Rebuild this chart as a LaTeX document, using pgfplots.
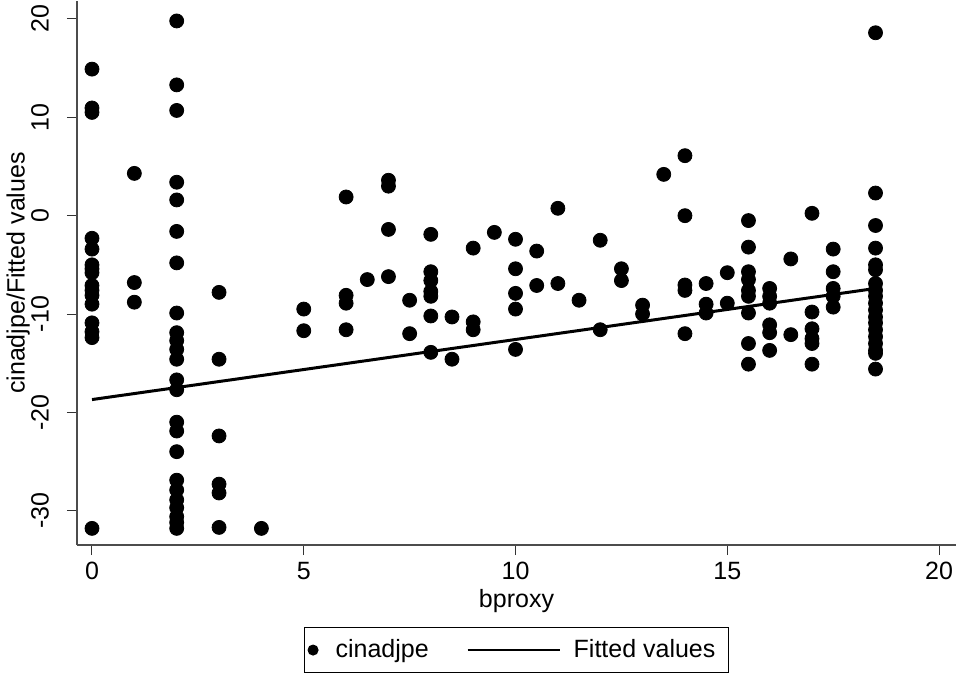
\documentclass[border=0pt]{standalone}
\usepackage{fontspec}
\setmainfont{Liberation Sans}
\usepackage{pgfplots}
\pgfplotsset{compat=1.18}

\begin{document}
\begin{tikzpicture}
% bounding box in reference proportions (1 px = 0.5 bp)
\useasboundingbox (-38.5bp,-64.5bp) rectangle (440.5bp,272.5bp);
\begin{axis}[
  at={(0,0)}, anchor=south west,
  scale only axis,
  width=439.5bp, height=272bp,
  font=\fontsize{12.5bp}{15bp}\selectfont,
  xmin=-0.354, xmax=20.40,
  ymin=-33.49, ymax=21.83,
  xtick={0,5,10,15,20},
  ytick={-30,-20,-10,0,10,20},
  axis x line*=bottom, axis y line*=left,
  axis line style={black!70, line width=1bp},
  tick align=outside,
  major tick length=5bp,
  tick style={black!80, line width=0.5bp},
  /pgf/number format/assume math mode=true,
  xticklabel style={anchor=north, yshift=0bp},
  yticklabel style={rotate=90, anchor=south, yshift=5.5bp},
  xlabel={bproxy},
  xlabel style={at={(axis description cs:0.5,0)}, anchor=center, yshift=-28bp},
  ylabel={cinadjpe/Fitted values},
  ylabel style={at={(axis description cs:-0.067,0.5)}, anchor=center},
  legend columns=2,
  legend style={at={(axis description cs:0.5,0)}, anchor=north, yshift=-41bp,
    draw=black, line width=0.5bp, inner xsep=1.5bp, inner ysep=4bp,
    font=\fontsize{12.5bp}{15bp}\selectfont,
    /tikz/every even column/.append style={column sep=16bp},
    /tikz/every odd column/.append style={column sep=3.5bp},
    nodes={inner xsep=3bp, inner ysep=2bp}},
  legend cell align=left,
]
\addplot[only marks, mark=*, mark size=3.5bp, black,
  legend image code/.code={\fill[black] (0bp,0bp) circle (2.5bp);}]
  coordinates {
  (0,14.9) (0,10.95) (0,10.5) (0,-2.3) (0,-3.4) (0,-5.0) (0,-5.4) (0,-5.8)
  (0,-7.1) (0,-7.6) (0,-8.1) (0,-9.0) (0,-10.9) (0,-11.8) (0,-12.4) (0,-31.8)
  (1,4.3) (1,-6.8) (1,-8.8)
  (2,19.8) (2,13.3) (2,10.7) (2,3.4) (2,1.6) (2,-1.6) (2,-4.8) (2,-9.9)
  (2,-11.9) (2,-12.7) (2,-13.6) (2,-14.6) (2,-16.7) (2,-17.7) (2,-21.0)
  (2,-21.9) (2,-24.0) (2,-26.9) (2,-27.9) (2,-28.9) (2,-29.7) (2,-30.6)
  (2,-31.2) (2,-31.8)
  (3,-7.8) (3,-14.6) (3,-22.4) (3,-27.3) (3,-28.2) (3,-31.7)
  (4,-31.8)
  (5,-9.5) (5,-11.7)
  (6,1.9) (6,-8.1) (6,-8.9) (6,-11.6)
  (6.5,-6.5)
  (7,3.6) (7,3.0) (7,-1.4) (7,-6.2)
  (7.5,-8.6) (7.5,-12.0)
  (8,-1.9) (8,-5.7) (8,-6.6) (8,-7.7) (8,-8.2) (8,-10.2) (8,-13.9)
  (8.5,-10.3) (8.5,-14.6)
  (9,-3.3) (9,-10.8) (9,-11.6)
  (9.5,-1.7)
  (10,-2.4) (10,-5.4) (10,-7.9) (10,-9.5) (10,-13.6)
  (10.5,-3.6) (10.5,-7.1)
  (11,0.75) (11,-6.9)
  (11.5,-8.6)
  (12,-2.5) (12,-11.6)
  (12.5,-5.4) (12.5,-6.6)
  (13,-9.1) (13,-10.0)
  (13.5,4.2)
  (14,6.1) (14,0.0) (14,-7.05) (14,-7.6) (14,-12.0)
  (14.5,-6.9) (14.5,-9.0) (14.5,-9.9)
  (15,-5.8) (15,-8.9)
  (15.5,-0.5) (15.5,-3.2) (15.5,-5.7) (15.5,-6.5) (15.5,-7.6) (15.5,-8.2)
  (15.5,-9.9) (15.5,-13.0) (15.5,-15.1)
  (16,-7.4) (16,-8.2) (16,-8.9) (16,-11.1) (16,-11.9) (16,-13.7)
  (16.5,-4.4) (16.5,-12.1)
  (17,0.24) (17,-9.8) (17,-11.5) (17,-12.5) (17,-13.0) (17,-15.1)
  (17.5,-3.4) (17.5,-5.7) (17.5,-7.4) (17.5,-8.2) (17.5,-9.3)
  (18.5,18.6) (18.5,2.3) (18.5,-1.0) (18.5,-3.3) (18.5,-5.0) (18.5,-5.5)
  (18.5,-6.9) (18.5,-7.6) (18.5,-8.2) (18.5,-8.9) (18.5,-9.6) (18.5,-10.3)
  (18.5,-10.9) (18.5,-11.6) (18.5,-12.3) (18.5,-13.0) (18.5,-13.7)
  (18.5,-14.0) (18.5,-15.6)
};
\addlegendentry{\hspace{2bp}cinadjpe}
\addplot[black, line width=1.5bp, no marks,
  legend image code/.code={\draw[black, line width=1bp] (0bp,0bp) -- (46bp,0bp);}]
  coordinates {(0,-18.7) (18.5,-7.4)};
\addlegendentry{Fitted values\hspace{2bp}\null}
\end{axis}
\end{tikzpicture}
\end{document}
